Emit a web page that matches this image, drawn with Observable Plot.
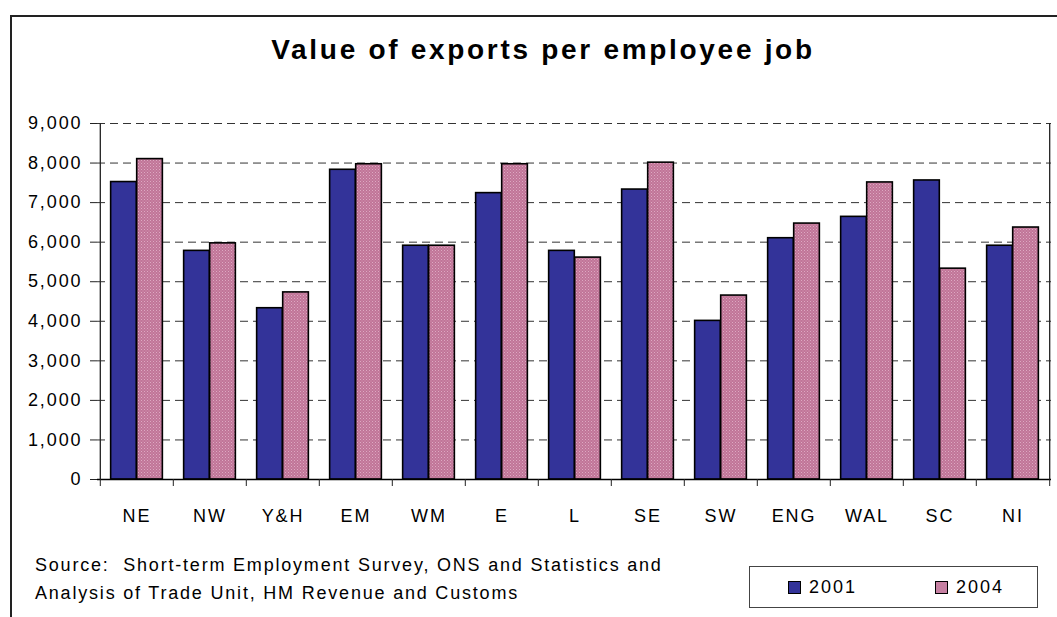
<!DOCTYPE html>
<html><head><meta charset="utf-8">
<script src="https://cdn.jsdelivr.net/npm/d3@7"></script>
<script src="https://cdn.jsdelivr.net/npm/@observablehq/plot@0.6"></script>
<style>
body{margin:0;background:#fff;}
#wrap{position:relative;width:1057px;height:617px;overflow:hidden;font-family:"Liberation Sans",Arial,sans-serif;color:#000;}
#frame{position:absolute;left:10px;top:15px;width:1200px;height:800px;border-left:2px solid #222;border-top:2px solid #222;}
#title{position:absolute;top:32px;left:0;width:1086px;text-align:center;font-size:28px;font-weight:bold;letter-spacing:2.7px;line-height:36px;}
#chart{position:absolute;left:0;top:100px;}
#chart svg text{letter-spacing:1.9px;}
#source{position:absolute;left:35px;top:551px;font-size:18px;line-height:28px;letter-spacing:1.8px;}
#legend{position:absolute;left:749px;top:566px;width:289px;height:42px;border:1px solid #444;box-sizing:border-box;font-size:18px;letter-spacing:2px;}
.item{position:absolute;top:10px;line-height:20px;}
.sw{display:inline-block;width:11px;height:11px;border:1px solid #000;margin-right:8px;vertical-align:-1px;}
</style>
</head><body>
<div id="wrap">
  <div id="frame"></div>
  <div id="title">Value of exports per employee job</div>
  <div id="chart"></div>
  <div id="source">Source:&nbsp; Short-term Employment Survey, ONS and Statistics and<br>Analysis of Trade Unit, HM Revenue and Customs</div>
  <div id="legend">
    <div class="item" style="left:38px"><span class="sw" style="background:#333399"></span>2001</div>
    <div class="item" style="left:185px"><span class="sw" style="background:#c680a2"></span>2004</div>
  </div>
</div>
<script>
const regions = ["NE","NW","Y&H","EM","WM","E","L","SE","SW","ENG","WAL","SC","NI"];
const values2001 = [7520,5780,4330,7830,5910,7240,5780,7330,4010,6100,6640,7560,5910];
const values2004 = [8100,5970,4730,7970,5910,7970,5610,8010,4650,6470,7510,5330,6370];
const yTicks = [0,1000,2000,3000,4000,5000,6000,7000,8000,9000];
const seriesColors = {"2001": "#333399", "2004": "url(#pinkdots)"};

const W = 1057, H = 440, mL = 97, mR = 6, mT = 23, mB = 61;
const bw = (W - mL - mR) / regions.length;
const barW = bw * 0.355;
const pad = (bw - 2 * barW) / 2;

const d2001 = regions.map((r, i) => ({region: r, value: values2001[i]}));
const d2004 = regions.map((r, i) => ({region: r, value: values2004[i]}));

const svg = Plot.plot({
  width: W, height: H,
  marginLeft: mL, marginRight: mR, marginTop: mT, marginBottom: mB,
  style: {fontSize: "18px", fontFamily: "'Liberation Sans', Arial, sans-serif", color: "#000", background: "transparent", overflow: "visible"},
  x: {domain: regions, padding: 0, label: null},
  y: {domain: [0, 9000], label: null},
  marks: [
    Plot.gridY(yTicks.slice(1), {stroke: "#333", strokeOpacity: 1, strokeDasharray: "8,5"}),
    Plot.barY(d2001, {x: "region", y: "value", fill: seriesColors["2001"], stroke: "#000", strokeWidth: 1.6,
      insetLeft: pad, insetRight: bw - pad - barW}),
    Plot.barY(d2004, {x: "region", y: "value", fill: seriesColors["2004"], stroke: "#000", strokeWidth: 1.6,
      insetLeft: pad + barW, insetRight: pad}),
    Plot.ruleY([0], {stroke: "#000", strokeWidth: 1.3}),
    Plot.ruleX([regions[0]], {x: d => d, dx: -bw / 2, y1: 0, y2: 9000, stroke: "#222", strokeWidth: 1.3}),
    Plot.ruleX([regions[regions.length - 1]], {x: d => d, dx: bw / 2, y1: 0, y2: 9000, stroke: "#222", strokeWidth: 1.3}),
    Plot.axisY(yTicks, {tickSize: 7, tickPadding: 8, tickFormat: d3.format(","), label: null, stroke: "#222"}),
    Plot.axisX(regions, {tickSize: 7, tickFormat: () => "", dx: -bw / 2, label: null, stroke: "#222"}),
    Plot.axisX([regions[regions.length - 1]], {tickSize: 7, tickFormat: () => "", dx: bw / 2, label: null, stroke: "#222"}),
    Plot.axisX(regions, {tickSize: 0, tickPadding: 30, label: null})
  ]
});

const ns = "http://www.w3.org/2000/svg";
const defs = document.createElementNS(ns, "defs");
defs.innerHTML = '<pattern id="pinkdots" width="3" height="3" patternUnits="userSpaceOnUse">' +
  '<rect width="3" height="3" fill="#c07598"/><rect x="0" y="0" width="1" height="1" fill="#dea9c2"/>' +
  '<rect x="1.5" y="1.5" width="1" height="1" fill="#d898b6"/></pattern>';
svg.insertBefore(defs, svg.firstChild);
document.getElementById("chart").appendChild(svg);
</script>
</body></html>
